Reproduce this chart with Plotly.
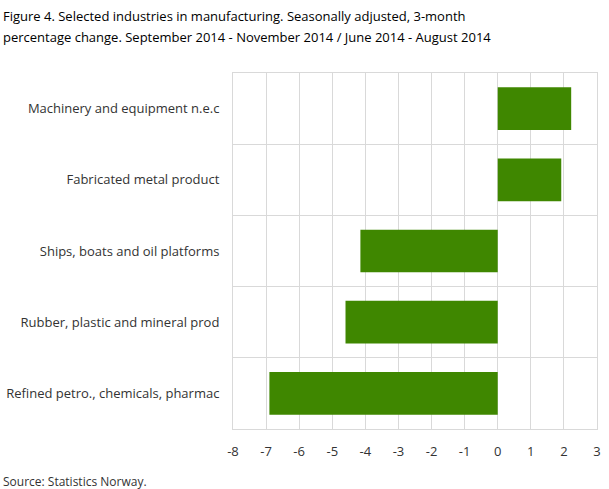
import plotly.graph_objects as go

categories = [
    "Refined petro., chemicals, pharmac",
    "Rubber, plastic and mineral prod",
    "Ships, boats and oil platforms",
    "Fabricated metal product",
    "Machinery and equipment n.e.c",
]
values = [-6.9, -4.6, -4.15, 1.92, 2.22]
x_ticks = [-8, -7, -6, -5, -4, -3, -2, -1, 0, 1, 2, 3]
title_lines = [
    "Figure 4. Selected industries in manufacturing. Seasonally adjusted, 3-month",
    "percentage change. September 2014 - November 2014 / June 2014 - August 2014",
]
source_text = "Source: Statistics Norway."

positions = list(range(len(categories)))
boundaries = [p - 0.5 for p in positions] + [positions[-1] + 0.5]

FONT = "Open Sans"
GRID = "#d9d9d9"
W, H = 609, 489
L, R, T, B = 233, 12, 73, 60

fig = go.Figure(
    go.Bar(
        x=values,
        y=positions,
        orientation="h",
        marker=dict(color="#3f8700", line=dict(width=0)),
        width=0.6,
        hoverinfo="x+y",
    )
)

annotations = []
for i, line in enumerate(title_lines):
    annotations.append(dict(
        text=line,
        xref="paper", yref="paper", x=0, y=1,
        xshift=-L + 1, yshift=T - 5 - 21 * i,
        xanchor="left", yanchor="top",
        showarrow=False,
        font=dict(family=FONT, size=13, color="#000000"),
    ))
annotations.append(dict(
    text=source_text,
    xref="paper", yref="paper", x=0, y=0,
    xshift=-L + 1, yshift=-42,
    xanchor="left", yanchor="top",
    showarrow=False,
    font=dict(family=FONT, size=12, color="#333333"),
))

fig.update_layout(
    width=W,
    height=H,
    margin=dict(l=L, r=R, t=T, b=B, autoexpand=False),
    paper_bgcolor="white",
    plot_bgcolor="white",
    showlegend=False,
    font=dict(family=FONT, size=13, color="#333333"),
    xaxis=dict(
        range=[x_ticks[0], x_ticks[-1]],
        tickvals=x_ticks,
        ticktext=[str(v) for v in x_ticks],
        showgrid=True,
        gridcolor=GRID,
        gridwidth=1,
        zeroline=False,
        showline=True,
        linecolor=GRID,
        mirror=True,
        ticks="",
        ticklabelstandoff=10,
        tickfont=dict(size=13, color="#333333"),
        fixedrange=True,
    ),
    yaxis=dict(
        range=[boundaries[0], boundaries[-1]],
        tickvals=positions,
        ticktext=categories,
        showgrid=False,
        zeroline=False,
        showline=True,
        linecolor=GRID,
        mirror=True,
        ticks="",
        ticklabelstandoff=10,
        tickfont=dict(size=13, color="#333333"),
        minor=dict(tickvals=boundaries, showgrid=True, gridcolor=GRID, gridwidth=1, ticks=""),
        fixedrange=True,
    ),
    annotations=annotations,
)

fig.write_html(
    "out.html",
    config={"displayModeBar": False},
    post_script="document.body.style.margin='0';document.body.style.overflow='hidden';",
)
